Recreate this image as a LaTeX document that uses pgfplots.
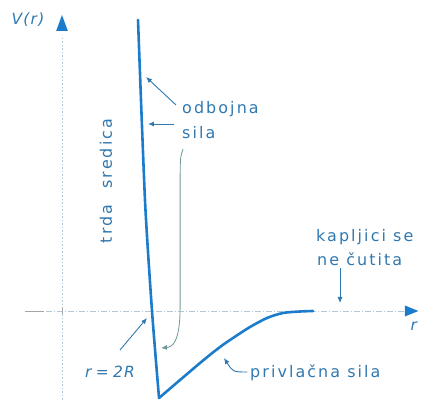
\documentclass[border=0pt]{standalone}
\usepackage{pgfplots}
\pgfplotsset{compat=1.18}
\usetikzlibrary{arrows.meta}
\usepackage{fontspec}
\setmainfont{DejaVu Sans}
\newfontfamily\lab{DejaVu Sans}[LetterSpace=13]
\newfontfamily\labit{DejaVu Sans Oblique}[LetterSpace=8]

\definecolor{curve}{RGB}{28,124,204}
\definecolor{ink}{RGB}{48,120,176}
\definecolor{axisc}{RGB}{178,200,214}
\definecolor{leader}{RGB}{112,150,152}

\tikzset{
  lbl/.style={text=ink, font=\lab\fontsize{16}{18}\selectfont, inner sep=0pt},
  lblit/.style={text=ink, font=\labit\fontsize{15.5}{18}\selectfont, inner sep=0pt},
  ann/.style={ink, line width=0.9bp, -{Latex[length=6bp,width=5bp]}},
}

% potential between two droplets, r in units of the droplet radius R
\pgfplotstableread{
r      V
1.689  29.1
1.844  11.1
2.000   0.0
2.156  -8.7
}\repulsive
\pgfplotstableread{
r      V
2.156  -8.7
3.067  -5.2
3.511  -3.6
3.800  -2.7
4.178  -1.6
4.556  -0.7
4.911  -0.2
5.289  -0.05
5.578   0.0
}\attractive

\begin{document}
\begin{tikzpicture}
\begin{axis}[
  name=ax,
  x=45bp, y=10bp,
  xmin=-1.3778, xmax=8.0222,
  ymin=-9.1, ymax=31.1,
  scale only axis,
  axis line style={draw=none},
  ticks=none,
  clip=false,
]
% axes
\draw[axisc, line width=0.7bp, dash pattern=on 1.5bp off 2bp]
  (axis cs:0,-8.9) -- (axis cs:0,27.5);
\draw[axisc, line width=0.7bp, dash pattern=on 6bp off 2bp on 1bp off 2bp]
  (axis cs:-0.35,0) -- (axis cs:7.65,0);
\draw[gray!70, line width=0.8bp] (axis cs:-0.82,0) -- (axis cs:-0.4,0);
\draw[gray!70, line width=0.6bp] (axis cs:0,-0.3) -- (axis cs:0,0.3);
\fill[curve] (axis cs:0,29.6) -- (axis cs:-0.13,28.0) -- (axis cs:0.13,28.0) -- cycle;
\fill[curve] (axis cs:7.92,0) -- (axis cs:7.62,0.55) -- (axis cs:7.62,-0.55) -- cycle;

% potential curve
\addplot[curve, line width=2.6bp, line cap=round, smooth, tension=0.4]
  table[x=r, y=V] {\repulsive};
\addplot[curve, line width=2.6bp, line cap=round, smooth, tension=0.5]
  table[x=r, y=V] {\attractive};

% labels
\node[lblit] at (axis cs:-0.756,29.1) {V(r)};
\node[lblit] at (axis cs:7.82,-1.5) {r};

\node[lbl, anchor=west] at (axis cs:2.667,20.2) {odbojna};
\node[lbl, anchor=west] at (axis cs:2.667,17.8) {sila};
\draw[ann] (axis cs:2.533,20.6) -- (axis cs:1.867,23.4);
\draw[ann] (axis cs:2.489,18.7) -- (axis cs:1.911,18.7);

\node[lbl, rotate=90] at (axis cs:0.978,13.0) {trda\hspace{16bp}sredica};

\draw[leader, line width=0.8bp, -{Latex[length=6bp,width=5bp]}]
  (axis cs:2.69,16.2) .. controls (axis cs:2.63,15.4) .. (axis cs:2.625,13.6)
  -- (axis cs:2.625,0.5)
  .. controls (axis cs:2.625,-3.2) and (axis cs:2.45,-3.6) .. (axis cs:2.2,-3.7);

\node[lblit] at (axis cs:1.067,-6.1) {r\;=\;2R};
\draw[ann] (axis cs:1.289,-3.9) -- (axis cs:1.889,-0.7);

\node[lbl, anchor=west] at (axis cs:5.644,7.4) {kapljici se};
\node[lbl, anchor=west] at (axis cs:5.667,5.2) {ne čutita};
\draw[ann] (axis cs:6.178,4.3) -- (axis cs:6.178,0.8);

\node[lbl, anchor=west] at (axis cs:4.178,-6.2) {privlačna sila};
\draw[ann] (axis cs:4.12,-6.1) .. controls (axis cs:3.8,-6.1) .. (axis cs:3.6,-4.7);
\end{axis}
\pgfresetboundingbox
\path (ax.south west) rectangle (ax.north east);
\end{tikzpicture}
\end{document}
